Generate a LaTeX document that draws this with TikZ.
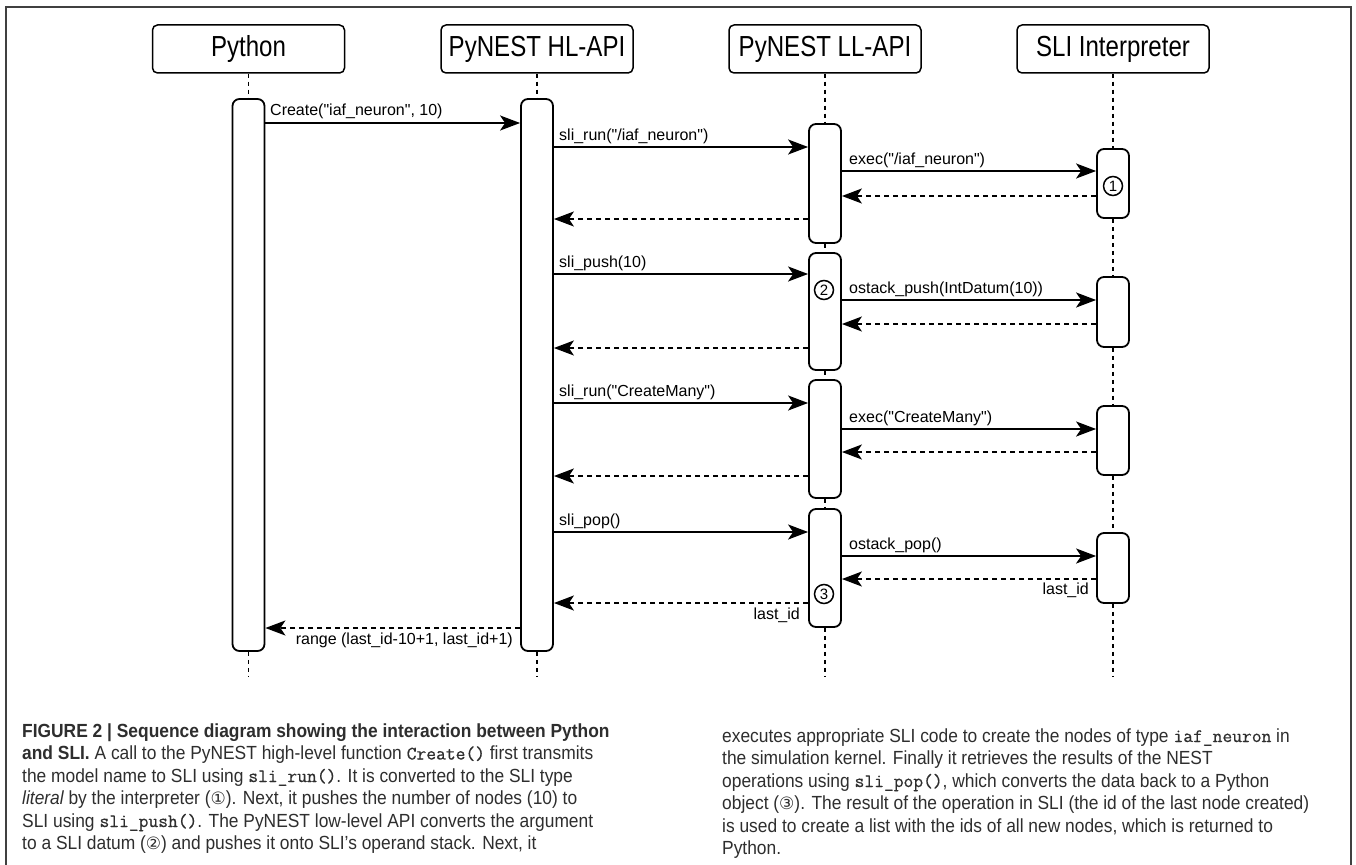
\documentclass[tikz,border=0pt]{standalone}
\usepackage{fontspec}
\usetikzlibrary{arrows.meta}
\newfontfamily\dgf{Liberation Sans}
\newfontfamily\hdf{Liberation Sans}[FakeStretch=0.83]
\newfontfamily\capf{Liberation Sans}[FakeStretch=0.915]
\newfontfamily\djv{DejaVu Sans}
\newfontfamily\codef{Latin Modern Mono}[FakeBold=0.6]
\newcommand{\cde}[1]{{\codef #1}}
\newcommand{\cnum}[1]{{\djv\fontsize{17}{17}\selectfont #1}}
\definecolor{capgray}{HTML}{2E2E2E}
\begin{document}
\begin{tikzpicture}[x=1pt,y=-1pt,
  header/.style={draw, line width=1.5pt, rounded corners=5pt, minimum width=192pt,
    minimum height=48pt, inner sep=0pt, font=\hdf\fontsize{29}{32}\selectfont},
  bar/.style={draw, line width=1.8pt, rounded corners=7pt, minimum width=32pt, inner sep=0pt},
  life/.style={line width=1.5pt, dash pattern=on 4pt off 4pt},
  call/.style={line width=1.8pt, -{Stealth[length=20pt,width=15pt,inset=5pt]}},
  ret/.style={call, dash pattern=on 5pt off 4pt},
  lbl/.style={inner sep=0pt, font=\dgf\fontsize{16}{19}\selectfont},
  num/.style={circle, draw, line width=1.5pt, minimum size=19pt, inner sep=0pt,
    font=\dgf\fontsize{15}{15}\selectfont},
  capl/.style={anchor=base west, inner sep=0pt, text=capgray,
    font=\capf\fontsize{19}{22}\selectfont}
]
\useasboundingbox (0,0) rectangle (1356,864);
\fill[white] (0,0) rectangle (1356,864);
% frame
\draw[line width=1.2pt, black!75] (6,900) -- (6,7) -- (1351,7) -- (1351,900);

% headers
\node[header] (hpy)  at (248.5,49) {Python};
\node[header] (hhl)  at (537,49)   {PyNEST HL-API};
\node[header] (hll)  at (825,49)   {PyNEST LL-API};
\node[header] (hsli) at (1113,49)  {SLI Interpreter};

% activation bars
\node[bar, minimum height=552pt] (py) at (248.5,375) {};
\node[bar, minimum height=552pt] (hl) at (537,375) {};
\node[bar, minimum height=119pt] (ll1) at (825,183.5) {};
\node[bar, minimum height=117pt] (ll2) at (825,311.5) {};
\node[bar, minimum height=118pt] (ll3) at (825,439) {};
\node[bar, minimum height=118pt] (ll4) at (825,568) {};
\node[bar, minimum height=69pt] (s1) at (1113,183.5) {};
\node[bar, minimum height=70pt] (s2) at (1113,312) {};
\node[bar, minimum height=69pt] (s3) at (1113,440.5) {};
\node[bar, minimum height=70pt] (s4) at (1113,568) {};

% lifeline ends
\coordinate (epy) at (248.5,677);
\coordinate (ehl) at (537,677);
\coordinate (ell) at (825,677);
\coordinate (esli) at (1113,677);

% lifelines
\draw[life] (hpy.south) -- (py.north);
\draw[life] (py.south) -- (epy);
\draw[life] (hhl.south) -- (hl.north);
\draw[life] (hl.south) -- (ehl);
\draw[life] (hll.south) -- (ll1.north);
\draw[life] (ll1.south) -- (ll2.north);
\draw[life] (ll2.south) -- (ll3.north);
\draw[life] (ll3.south) -- (ll4.north);
\draw[life] (ll4.south) -- (ell);
\draw[life] (hsli.south) -- (s1.north);
\draw[life] (s1.south) -- (s2.north);
\draw[life] (s2.south) -- (s3.north);
\draw[life] (s3.south) -- (s4.north);
\draw[life] (s4.south) -- (esli);

% messages
\draw[call] (py.east |- 0,123) -- (hl.west |- 0,123);
\node[lbl, anchor=base west] (m0) at (270,116) {Create("iaf\_neuron", 10)};

% block 1
\draw[call] (hl.east |- 0,147) -- (ll1.west |- 0,147);
\node[lbl, anchor=base west] (m1) at (559,140) {sli\_run("/iaf\_neuron")};
\draw[call] (ll1.east |- 0,171) -- (s1.west |- 0,171);
\node[lbl, anchor=base west] (m2) at (849,164) {exec("/iaf\_neuron")};
\draw[ret] (s1.west |- 0,196) -- (ll1.east |- 0,196);
\draw[ret] (ll1.west |- 0,219) -- (hl.east |- 0,219);

% block 2
\draw[call] (hl.east |- 0,274) -- (ll2.west |- 0,274);
\node[lbl, anchor=base west] (m3) at (559,267) {sli\_push(10)};
\draw[call] (ll2.east |- 0,300) -- (s2.west |- 0,300);
\node[lbl, anchor=base west] (m4) at (849,293) {ostack\_push(IntDatum(10))};
\draw[ret] (s2.west |- 0,324) -- (ll2.east |- 0,324);
\draw[ret] (ll2.west |- 0,348) -- (hl.east |- 0,348);

% block 3
\draw[call] (hl.east |- 0,403) -- (ll3.west |- 0,403);
\node[lbl, anchor=base west] (m5) at (559,396) {sli\_run("CreateMany")};
\draw[call] (ll3.east |- 0,429) -- (s3.west |- 0,429);
\node[lbl, anchor=base west] (m6) at (849,422) {exec("CreateMany")};
\draw[ret] (s3.west |- 0,452) -- (ll3.east |- 0,452);
\draw[ret] (ll3.west |- 0,476) -- (hl.east |- 0,476);

% block 4
\draw[call] (hl.east |- 0,532) -- (ll4.west |- 0,532);
\node[lbl, anchor=base west] (m7) at (559,525) {sli\_pop()};
\draw[call] (ll4.east |- 0,556) -- (s4.west |- 0,556);
\node[lbl, anchor=base west] (m8) at (849,549) {ostack\_pop()};
\draw[ret] (s4.west |- 0,579) -- (ll4.east |- 0,579);
\node[lbl, anchor=base east] (r1) at (1089,594) {last\_id};
\draw[ret] (ll4.west |- 0,603) -- (hl.east |- 0,603);
\node[lbl, anchor=base east] (r2) at (800,619) {last\_id};

% final return
\draw[ret] (hl.west |- 0,628) -- (py.east |- 0,628);
\node[lbl, anchor=base east] (r3) at (513,644) {range (last\_id-10+1, last\_id+1)};

% circled numbers
\node[num] (c1) at (1113,186) {1};
\node[num] (c2) at (824,290) {2};
\node[num] (c3) at (824,594) {3};

% caption, left column
\node[capl] (l1) at (22,737) {\bfseries FIGURE 2 | Sequence diagram showing the interaction between Python};
\node[capl] (l2) at (22,759.5) {{\bfseries and SLI.} A call to the PyNEST high-level function \cde{Create()} first transmits};
\node[capl] (l3) at (22,782) {the model name to SLI using \cde{sli\_run()}. It is converted to the SLI type};
\node[capl] (l4) at (22,804.5) {\itshape literal\upshape{} by the interpreter (\cnum{①}). Next, it pushes the number of nodes (10) to};
\node[capl] (l5) at (22,827) {SLI using \cde{sli\_push()}. The PyNEST low-level API converts the argument};
\node[capl] (l6) at (22,849.5) {to a SLI datum (\cnum{②}) and pushes it onto SLI’s operand stack. Next, it};
% caption, right column
\node[capl] (q1) at (722,742) {executes appropriate SLI code to create the nodes of type \cde{iaf\_neuron} in};
\node[capl] (q2) at (722,764.5) {the simulation kernel. Finally it retrieves the results of the NEST};
\node[capl] (q3) at (722,787) {operations using \cde{sli\_pop()}, which converts the data back to a Python};
\node[capl] (q4) at (722,809.5) {object (\cnum{③}). The result of the operation in SLI (the id of the last node created)};
\node[capl] (q5) at (722,832) {is used to create a list with the ids of all new nodes, which is returned to};
\node[capl] (q6) at (722,854.5) {Python.};
\end{tikzpicture}
\end{document}
